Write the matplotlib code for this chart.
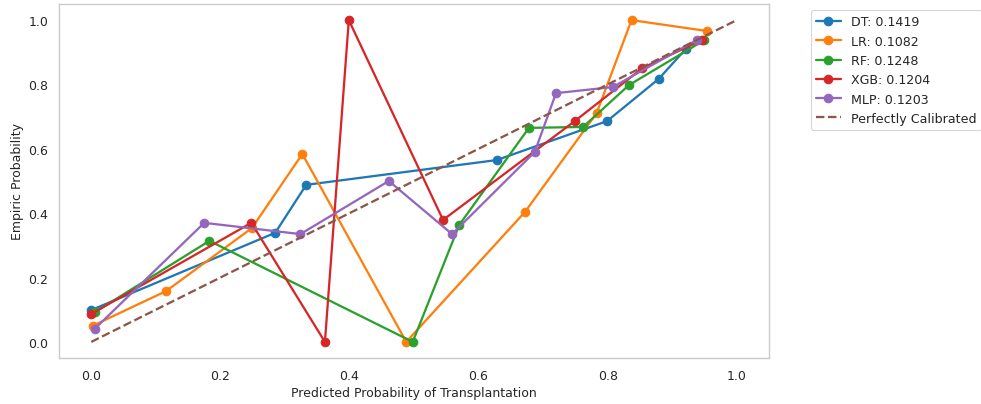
import numpy as np
import matplotlib.pyplot as plt
import seaborn as sns

# curvas de calibracion (prob. predicha media, fraccion de positivos)
dt_x = [0.0, 0.285, 0.333, 0.628, 0.799, 0.879, 0.921]
dt_y = [0.099, 0.339, 0.488, 0.565, 0.686, 0.817, 0.910]

lr_x = [0.002, 0.116, 0.249, 0.327, 0.488, 0.672, 0.783, 0.837, 0.954]
lr_y = [0.050, 0.158, 0.354, 0.584, 0.0, 0.404, 0.711, 1.0, 0.966]

rf_x = [0.006, 0.183, 0.498, 0.570, 0.678, 0.762, 0.833, 0.950]
rf_y = [0.093, 0.314, 0.0, 0.363, 0.665, 0.668, 0.798, 0.938]

xgb_x = [0.0, 0.248, 0.362, 0.399, 0.545, 0.749, 0.854, 0.946]
xgb_y = [0.087, 0.370, 0.0, 1.0, 0.379, 0.686, 0.851, 0.938]

mlp_x = [0.005, 0.175, 0.324, 0.461, 0.559, 0.687, 0.720, 0.808, 0.938]
mlp_y = [0.040, 0.370, 0.335, 0.5, 0.335, 0.590, 0.773, 0.792, 0.938]

modelos = ["DT", "LR", "RF", "XGB", "MLP"]
brier = [0.1419, 0.1082, 0.1248, 0.1204, 0.1203]
curvas = [(dt_x, dt_y), (lr_x, lr_y), (rf_x, rf_y), (xgb_x, xgb_y), (mlp_x, mlp_y)]

sns.set_theme(style="whitegrid", palette="tab10")

dpi = 81.75
fig = plt.figure(figsize=(981 / dpi, 405 / dpi), dpi=dpi)
ax = fig.add_axes([59 / 981, 46 / 405, 710 / 981, 354 / 405])

for nombre, score, (xs, ys) in zip(modelos, brier, curvas):
    ax.plot(xs, ys, marker="o", linewidth=2, markersize=7.5,
            label=f"{nombre}: {score:.4f}")

ax.plot([0, 1], [0, 1], linestyle="--", linewidth=2, label="Perfectly Calibrated")

ax.set_xlabel("Predicted Probability of Transplantation", fontsize=11)
ax.set_ylabel("Empiric Probability", fontsize=11)
ax.set_xticks(np.arange(0, 1.01, 0.2))
ax.set_yticks(np.arange(0, 1.01, 0.2))
ax.grid(False)
ax.legend(bbox_to_anchor=(1.05, 1), loc="upper left", fontsize=11.1)

fig.savefig("out.png", dpi=dpi)
